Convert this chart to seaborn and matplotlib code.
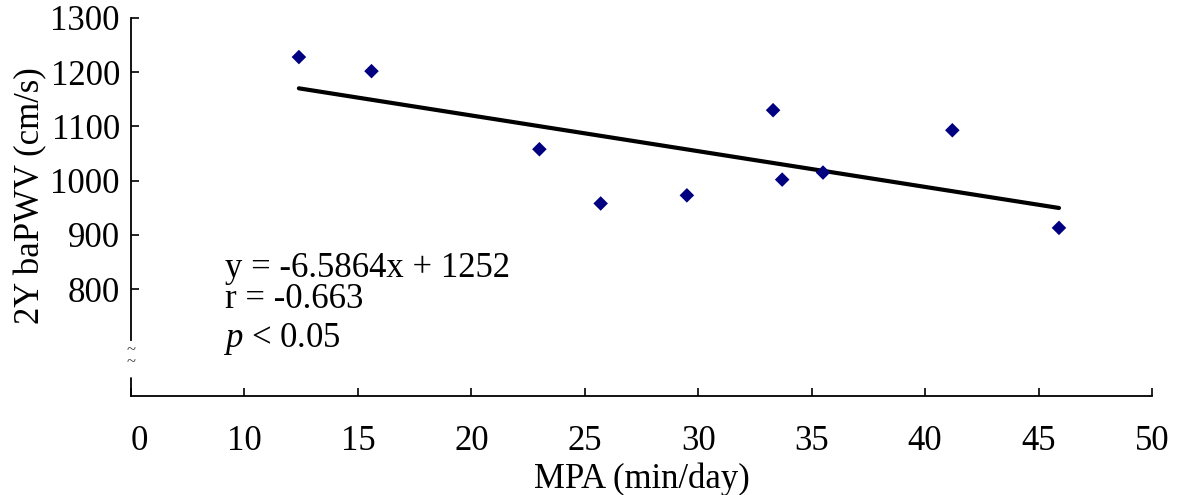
import numpy as np
import pandas as pd
import matplotlib
matplotlib.use("Agg")
import matplotlib.pyplot as plt
import matplotlib.transforms as mtransforms
import seaborn as sns

# ---- data ----
mpa = [12.4, 15.6, 23.0, 25.7, 29.5, 33.3, 33.7, 35.5, 41.2, 45.9]
bapwv = [1228, 1202, 1058, 958, 973, 1130, 1002, 1015, 1093, 913]
slope = -6.5864
intercept = 1252
x_ticks = [5, 10, 15, 20, 25, 30, 35, 40, 45, 50]
x_tick_labels = ["0", "10", "15", "20", "25", "30", "35", "40", "45", "50"]
y_ticks = [800, 900, 1000, 1100, 1200, 1300]
y_tick_labels = ["800", "900", "1000", "1100", "1200", "1300"]
annot_lines = ["y = -6.5864x + 1252", "r = -0.663"]

df = pd.DataFrame({"MPA": mpa, "baPWV": bapwv})
fit_x = np.array([min(mpa), max(mpa)])
fit_df = pd.DataFrame({"x": fit_x, "y": slope * fit_x + intercept})

sns.set_theme(style="ticks")
plt.rcParams["font.family"] = ["Liberation Serif", "DejaVu Serif"]
plt.rcParams["mathtext.fontset"] = "custom"
plt.rcParams["mathtext.rm"] = "Liberation Serif"
plt.rcParams["mathtext.it"] = "Liberation Serif:italic"

FS = 25
fig = plt.figure(figsize=(11.8, 4.95), dpi=100)
ax = fig.add_axes([131 / 1180, 99 / 495, (1152 - 131) / 1180, (396 - 18) / 495])

sns.lineplot(data=fit_df, x="x", y="y", ax=ax, color="black", linewidth=3.0, zorder=2)
sns.scatterplot(data=df, x="MPA", y="baPWV", ax=ax, marker="D", color="#000080",
                s=55, edgecolor="none", linewidth=0, zorder=3)

ax.set_xlim(5, 50)
ax.set_ylim(603, 1300)
ax.set_xticks(x_ticks)
ax.set_xticklabels(x_tick_labels)
ax.set_yticks(y_ticks)
ax.set_yticklabels(y_tick_labels)
ax.tick_params(axis="x", direction="in", length=6, width=1.2, pad=21, labelsize=FS, colors="black")
ax.tick_params(axis="y", direction="in", length=6, width=1.2, pad=8, labelsize=FS, colors="black")

# first x label ("0") sits slightly right of its tick in the reference
lbl0 = ax.get_xticklabels()[0]
lbl0.set_transform(lbl0.get_transform() + mtransforms.ScaledTranslation(8 / 100, 0, fig.dpi_scale_trans))

for s in ["top", "right"]:
    ax.spines[s].set_visible(False)
for s in ["left", "bottom"]:
    ax.spines[s].set_linewidth(1.3)
    ax.spines[s].set_color("black")

# broken y axis
brk_lo, brk_hi = 636, 706
ax.spines["left"].set_bounds(brk_hi, 1300)
ax.plot([5, 5], [603, brk_lo], color="black", linewidth=1.3, clip_on=False, zorder=4)
ax.text(5, 677, "~\n~", fontsize=12, ha="center", va="center", color="#333333", linespacing=0.7)

ax.set_xlabel("MPA (min/day)", fontsize=FS, labelpad=3, color="black")
ax.set_ylabel("2Y baPWV (cm/s)", fontsize=FS, color="black")
ax.yaxis.set_label_coords(-0.082, 0.529)

ax.text(9.15, 839, annot_lines[0], fontsize=FS, ha="left", va="center", color="black")
ax.text(9.15, 781, annot_lines[1], fontsize=FS, ha="left", va="center", color="black")
ax.text(9.05, 708, r"$\it{p}$ < 0.05", fontsize=FS, ha="left", va="center", color="black")

fig.savefig("out.png", dpi=100)
